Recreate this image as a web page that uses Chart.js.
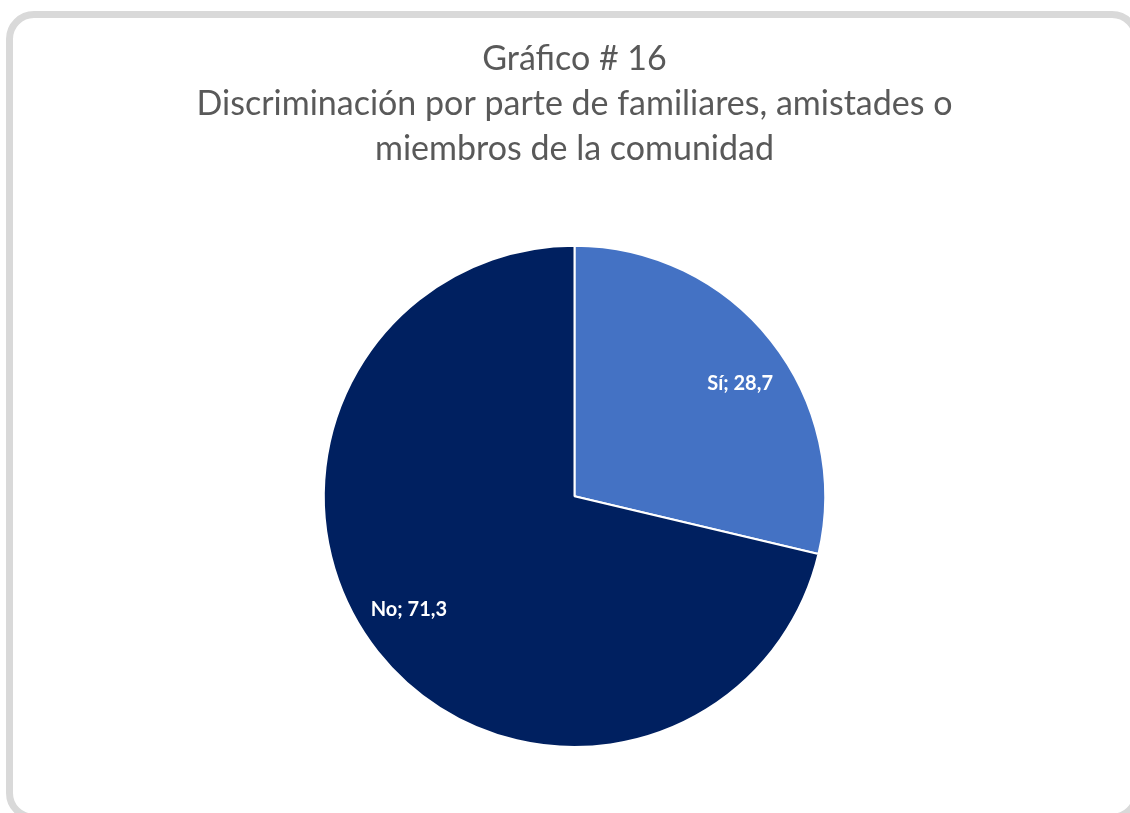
<!DOCTYPE html>
<html>
<head>
<meta charset="utf-8">
<script src="https://cdn.jsdelivr.net/npm/chart.js@4/dist/chart.umd.min.js"></script>
<style>
    html, body { margin: 0; padding: 0; background: #fff; }
    .frame {
        position: absolute; left: 6px; top: 11px; width: 1134px; height: 810px;
        box-sizing: border-box; border: 7px solid #d9d9d9; border-radius: 28px;
    }
    .wrap { position: absolute; left: 0; top: 0; width: 1130px; height: 813px; }
</style>
</head>
<body>
<div class="frame"></div>
<div class="wrap"><canvas id="chart"></canvas></div>
<script>
const titleLines = ['Gráfico # 16', 'Discriminación por parte de familiares, amistades o', 'miembros de la comunidad'];
const categories = ['Sí', 'No'];
const values = [28.7, 71.3];
const colors = ['#4472C4', '#002060'];

// draws "Sí; 28,7" style labels inside each slice
const sliceLabels = {
    id: 'sliceLabels',
    afterDatasetsDraw(chart) {
        const ctx = chart.ctx;
        const meta = chart.getDatasetMeta(0);
        ctx.save();
        ctx.font = 'bold 20px Lato';
        ctx.fillStyle = '#ffffff';
        ctx.textAlign = 'center';
        ctx.textBaseline = 'middle';
        meta.data.forEach((arc, i) => {
            const p = arc.getProps(['x', 'y', 'startAngle', 'endAngle', 'outerRadius'], true);
            const mid = (p.startAngle + p.endAngle) / 2 + 0.07;
            const r = p.outerRadius * 0.8;
            const text = categories[i] + '; ' + String(values[i]).replace('.', ',');
            ctx.fillText(text, p.x + Math.cos(mid) * r, p.y + Math.sin(mid) * r);
        });
        ctx.restore();
    }
};

new Chart(document.getElementById('chart'), {
    type: 'pie',
    data: {
        labels: categories,
        datasets: [{
            data: values,
            backgroundColor: colors,
            borderColor: '#ffffff',
            borderWidth: 2
        }]
    },
    options: {
        responsive: true,
        maintainAspectRatio: false,
        animation: false,
        layout: { padding: { top: 0, left: 19, right: 0, bottom: 65 } },
        plugins: {
            legend: { display: false },
            tooltip: { enabled: false },
            title: {
                display: true,
                text: titleLines,
                color: '#595959',
                font: { family: 'Lato', size: 34, weight: 'normal', lineHeight: 1.32 },
                padding: { top: 37, bottom: 73 }
            }
        }
    },
    plugins: [sliceLabels]
});
</script>
</body>
</html>
